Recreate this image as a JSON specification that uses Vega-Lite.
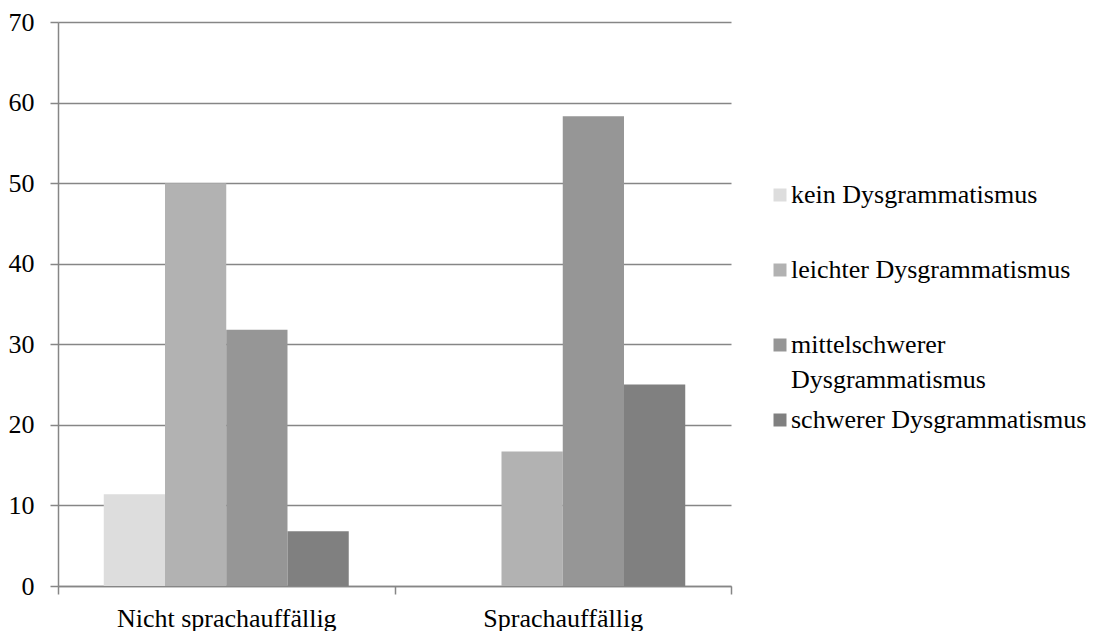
{
  "$schema": "https://vega.github.io/schema/vega-lite/v6.json",
  "autosize": {"type": "none"},
  "padding": {"left": 58, "top": 22, "right": 366, "bottom": 45},
  "width": 673,
  "height": 564,
  "background": "white",
  "config": {
    "font": "Liberation Serif",
    "view": {"stroke": null}
  },
  "data": {
    "values": [
      {"gruppe": "Nicht sprachauffällig", "grad": "kein Dysgrammatismus", "prozent": 11.4},
      {"gruppe": "Nicht sprachauffällig", "grad": "leichter Dysgrammatismus", "prozent": 50.0},
      {"gruppe": "Nicht sprachauffällig", "grad": "mittelschwerer Dysgrammatismus", "prozent": 31.8},
      {"gruppe": "Nicht sprachauffällig", "grad": "schwerer Dysgrammatismus", "prozent": 6.8},
      {"gruppe": "Sprachauffällig", "grad": "kein Dysgrammatismus", "prozent": 0},
      {"gruppe": "Sprachauffällig", "grad": "leichter Dysgrammatismus", "prozent": 16.7},
      {"gruppe": "Sprachauffällig", "grad": "mittelschwerer Dysgrammatismus", "prozent": 58.3},
      {"gruppe": "Sprachauffällig", "grad": "schwerer Dysgrammatismus", "prozent": 25.0}
    ]
  },
  "mark": {"type": "bar"},
  "encoding": {
    "x": {
      "field": "gruppe",
      "type": "nominal",
      "sort": null,
      "scale": {"paddingInner": 0, "paddingOuter": 0},
      "axis": {
        "title": null,
        "labelAngle": 0,
        "labelFont": "Liberation Serif",
        "labelFontSize": 26,
        "labelColor": "#000000",
        "labelLimit": 400,
        "labelPadding": 11,
        "labelBaseline": "top",
        "domainColor": "#868686",
        "domainWidth": 1.5,
        "tickColor": "#868686",
        "tickWidth": 1.5,
        "tickSize": 8,
        "tickBand": "extent",
        "grid": false
      }
    },
    "xOffset": {
      "field": "grad",
      "type": "nominal",
      "sort": null,
      "scale": {"paddingInner": 0, "paddingOuter": 0.747}
    },
    "y": {
      "field": "prozent",
      "type": "quantitative",
      "scale": {"domain": [0, 70], "nice": false},
      "axis": {
        "title": null,
        "values": [0, 10, 20, 30, 40, 50, 60, 70],
        "labelFont": "Liberation Serif",
        "labelFontSize": 26,
        "labelColor": "#000000",
        "labelPadding": 16,
        "domainColor": "#868686",
        "domainWidth": 1.5,
        "tickColor": "#868686",
        "tickWidth": 1.5,
        "tickSize": 8,
        "grid": true,
        "gridColor": "#868686",
        "gridWidth": 1.5,
        "gridOpacity": 1
      }
    },
    "color": {
      "field": "grad",
      "type": "nominal",
      "sort": null,
      "scale": {
        "domain": ["kein Dysgrammatismus", "leichter Dysgrammatismus", "mittelschwerer Dysgrammatismus", "schwerer Dysgrammatismus"],
        "range": ["#dddddd", "#b2b2b2", "#969696", "#808080"]
      },
      "legend": {
        "title": null,
        "orient": "none",
        "legendX": 709,
        "legendY": 160,
        "padding": 0,
        "symbolType": "square",
        "symbolSize": 169,
        "symbolStrokeWidth": 0,
        "symbolOffset": 0,
        "labelOffset": -2,
        "labelFont": "Liberation Serif",
        "labelFontSize": 26,
        "labelColor": "#000000",
        "labelLimit": 400,
        "labelBaseline": "middle",
        "labelExpr": "datum.label == 'mittelschwerer Dysgrammatismus' ? ['mittelschwerer', 'Dysgrammatismus'] : datum.label",
        "gridAlign": "all",
        "rowPadding": 14,
        "encode": {
          "labels": {"update": {"lineHeight": {"value": 35}}}
        }
      }
    }
  }
}
